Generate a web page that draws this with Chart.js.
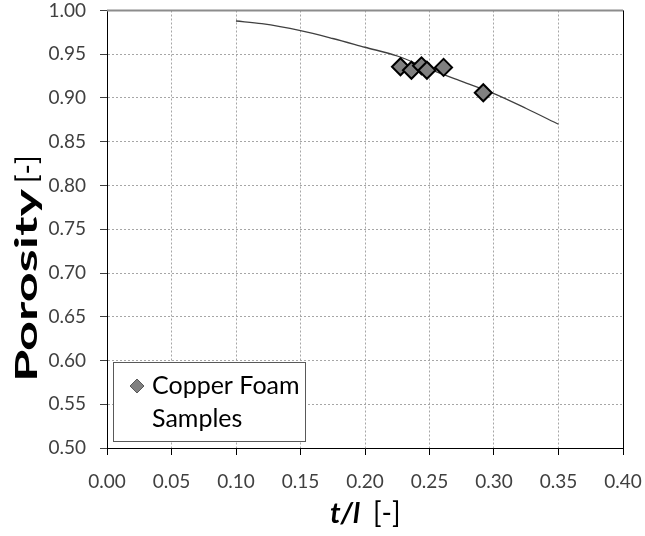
<!DOCTYPE html>
<html>
<head>
<meta charset="utf-8">
<script src="https://cdn.jsdelivr.net/npm/chart.js@4"></script>
<style>
  html, body { margin: 0; padding: 0; background: #fff; }
  #wrap { width: 645px; height: 536px; }
</style>
</head>
<body>
<div id="wrap"><canvas id="c" width="645" height="536"></canvas></div>
<script>
// Model curve: porosity as a function of strut ratio t/l
const curveT = [0.10, 0.12, 0.15, 0.175, 0.20, 0.225, 0.25, 0.275, 0.30, 0.325, 0.35];
const curveP = [0.988, 0.985, 0.977, 0.968, 0.958, 0.948, 0.933, 0.919, 0.905, 0.888, 0.870];

// Measured copper foam samples
const sampleT = [0.2275, 0.236, 0.2438, 0.248, 0.2609, 0.2917];
const sampleP = [0.9357, 0.9317, 0.9368, 0.9317, 0.935, 0.906];

// Axis ticks
const xTicks = [0.00, 0.05, 0.10, 0.15, 0.20, 0.25, 0.30, 0.35, 0.40];
const yTicks = [0.50, 0.55, 0.60, 0.65, 0.70, 0.75, 0.80, 0.85, 0.90, 0.95, 1.00];

const sampleLabel = ['Copper Foam', 'Samples'];

const FONT = 'Lato, "Open Sans", "DejaVu Sans", sans-serif';

const curveData = curveT.map((t, i) => ({ x: t, y: curveP[i] }));
const sampleData = sampleT.map((t, i) => ({ x: t, y: sampleP[i] }));

// Frame, axis titles and the boxed legend
const decor = {
  id: 'decor',
  afterDraw(chart) {
    const { ctx, chartArea: a } = chart;
    ctx.save();
    // top edge of the plot area
    ctx.strokeStyle = '#8c8c8c';
    ctx.lineWidth = 2;
    ctx.beginPath();
    ctx.moveTo(a.left, a.top);
    ctx.lineTo(a.right, a.top);
    ctx.stroke();
    // right edge
    ctx.strokeStyle = '#000';
    ctx.lineWidth = 1;
    ctx.beginPath();
    ctx.moveTo(Math.round(a.right) + 0.5, a.top);
    ctx.lineTo(Math.round(a.right) + 0.5, a.bottom + 7);
    ctx.stroke();

    // x-axis title: t/l [-]
    ctx.fillStyle = '#000';
    ctx.textBaseline = 'alphabetic';
    ctx.textAlign = 'left';
    ctx.font = 'italic bold 29px ' + FONT;
    ctx.fillText('t/l', 330, 523);
    ctx.font = '28px ' + FONT;
    ctx.fillText('[-]', 373, 523);

    // y-axis title: Porosity [-]
    ctx.save();
    ctx.translate(37, 382);
    ctx.rotate(-Math.PI / 2);
    ctx.font = 'bold 31px ' + FONT;
    const w = ctx.measureText('Porosity').width;
    ctx.save();
    ctx.scale(193 / w, 1);
    ctx.fillText('Porosity', 0, 0);
    ctx.restore();
    ctx.font = '28px ' + FONT;
    ctx.fillText('[-]', 199, 0);
    ctx.restore();

    // legend box
    const bx = 113.5, by = 362.5, bw = 192, bh = 79;
    ctx.fillStyle = '#fff';
    ctx.fillRect(bx, by, bw, bh);
    ctx.strokeStyle = '#595959';
    ctx.lineWidth = 1;
    ctx.strokeRect(bx, by, bw, bh);
    // marker
    const mx = 137, my = 386, mr = 7;
    ctx.beginPath();
    ctx.moveTo(mx - mr, my);
    ctx.lineTo(mx, my - mr);
    ctx.lineTo(mx + mr, my);
    ctx.lineTo(mx, my + mr);
    ctx.closePath();
    ctx.fillStyle = '#808080';
    ctx.fill();
    ctx.strokeStyle = '#595959';
    ctx.stroke();
    ctx.fillStyle = '#000';
    ctx.font = '25px ' + FONT;
    const lbl = chart.data.datasets[0].label;
    lbl.forEach((line, i) => ctx.fillText(line, 152, 394 + i * 33));
    ctx.restore();
  }
};

new Chart(document.getElementById('c'), {
  type: 'scatter',
  data: {
    datasets: [
      {
        label: sampleLabel,
        data: sampleData,
        pointStyle: 'rectRot',
        pointRadius: 8.5,
        pointHoverRadius: 8.5,
        pointBackgroundColor: '#808080',
        pointBorderColor: '#000',
        pointBorderWidth: 2,
        showLine: false,
        order: 0
      },
      {
        label: 'model',
        data: curveData,
        showLine: true,
        borderColor: '#404040',
        borderWidth: 1.3,
        pointRadius: 0,
        cubicInterpolationMode: 'monotone',
        fill: false,
        order: 1
      }
    ]
  },
  options: {
    responsive: false,
    animation: false,
    events: [],
    layout: { padding: { top: 9, right: 22, left: 0, bottom: 0 } },
    plugins: { legend: { display: false }, tooltip: { enabled: false } },
    scales: {
      x: {
        type: 'linear',
        min: 0, max: 0.40,
        afterBuildTicks(s) { s.ticks = xTicks.map(v => ({ value: v })); },
        afterFit(s) { s.height = 88; s.paddingLeft = 0; s.paddingRight = 0; },
        ticks: {
          callback: v => v.toFixed(2),
          color: '#404040',
          font: { family: FONT, size: 19 },
          padding: 15,
          maxRotation: 0,
          autoSkip: false
        },
        grid: {
          color: '#a6a6a6',
          lineWidth: 1,
          tickLength: 7,
          tickColor: '#000',
          tickBorderDash: []
        },
        border: { color: '#000', width: 1, dash: [2, 2] }
      },
      y: {
        type: 'linear',
        min: 0.50, max: 1.00,
        afterBuildTicks(s) { s.ticks = yTicks.map(v => ({ value: v })); },
        afterFit(s) { s.width = 107; s.paddingTop = 0; s.paddingBottom = 0; },
        ticks: {
          callback: v => v.toFixed(2),
          color: '#404040',
          font: { family: FONT, size: 19 },
          padding: 14,
          autoSkip: false
        },
        grid: {
          color: '#a6a6a6',
          lineWidth: 1,
          tickLength: 7,
          tickColor: '#404040',
          tickBorderDash: []
        },
        border: { color: '#000', width: 1, dash: [2, 2] }
      }
    }
  },
  plugins: [decor]
});
</script>
</body>
</html>
